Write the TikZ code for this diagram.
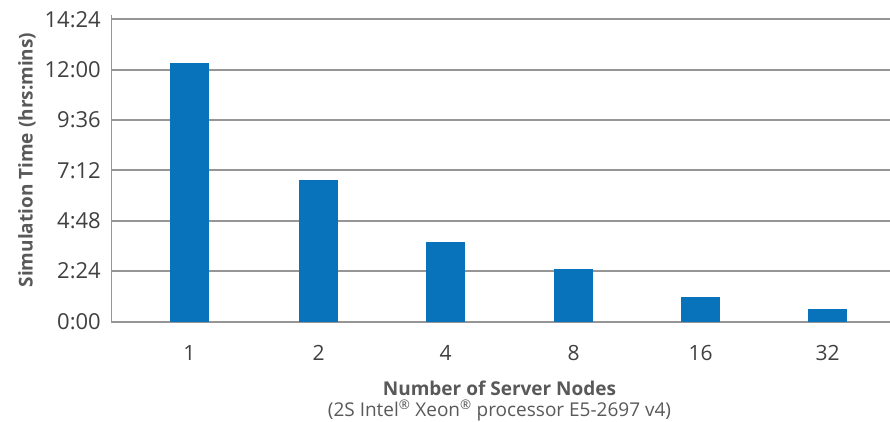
\documentclass[tikz,border=0pt]{standalone}
\usepackage{fontspec}
\setmainfont{Open Sans}
\definecolor{barblue}{RGB}{8,114,187}
\definecolor{gridgray}{RGB}{150,150,150}
\definecolor{txtgray}{RGB}{64,64,64}
\definecolor{ttlgray}{RGB}{89,89,89}
\tikzstyle{bar} = [fill=barblue, draw=none]
\tikzstyle{tick} = [anchor=east, text=txtgray, inner sep=0pt,
    font=\fontsize{22}{22}\selectfont]
\tikzstyle{cat} = [text=txtgray, inner sep=0pt,
    font=\fontsize{21}{21}\selectfont]
\tikzstyle{ttl} = [text=ttlgray, inner sep=0pt,
    font=\fontsize{19}{19}\selectfont\bfseries]
\tikzstyle{gridline} = [draw=gridgray, line width=2pt]

\begin{document}
\begin{tikzpicture}[x=1pt,y=1pt]
\useasboundingbox (0,0) rectangle (890,421);
\begin{scope}[yshift=99.5pt]
    %grid and ticks
    \foreach \lab [count=\k from 0] in {0:00,2:24,4:48,7:12,9:36,12:00,14:24} {
        \draw[gridline] (111,\k*50.35) -- (890,\k*50.35);
        \node[tick] (tk\k) at (101,\k*50.35) {\lab};
    }
    \draw[gridgray, line width=0.8pt] (111,0) -- (111,306);
    %bars
    \foreach \cx/\hv/\lab [count=\k] in {189.5/12.34/1, 318.5/6.74/2,
        445.5/3.79/4, 573.5/2.50/8, 700.5/1.17/16, 827.5/0.60/32} {
        \fill[bar] (\cx-19.5,0) rectangle (\cx+19.5,\hv*20.98);
        \node[cat] (c\k) at (\cx,-31.5) {\lab};
    }
    %titles
    \node[ttl, anchor=base] (xttl) at (499.5,-73.5) {Number of Server Nodes};
    \node[text=ttlgray, font=\fontsize{19}{19}\selectfont, inner sep=0pt,
        anchor=base] (xsub) at (499.5,-94.5)
        {(2S Intel\textsuperscript{\textregistered} Xeon\textsuperscript{\textregistered} processor E5-2697 v4)};
    \node[ttl, rotate=90] (yttl) at (27,161.5) {Simulation Time (hrs:mins)};
\end{scope}
\end{tikzpicture}
\end{document}
